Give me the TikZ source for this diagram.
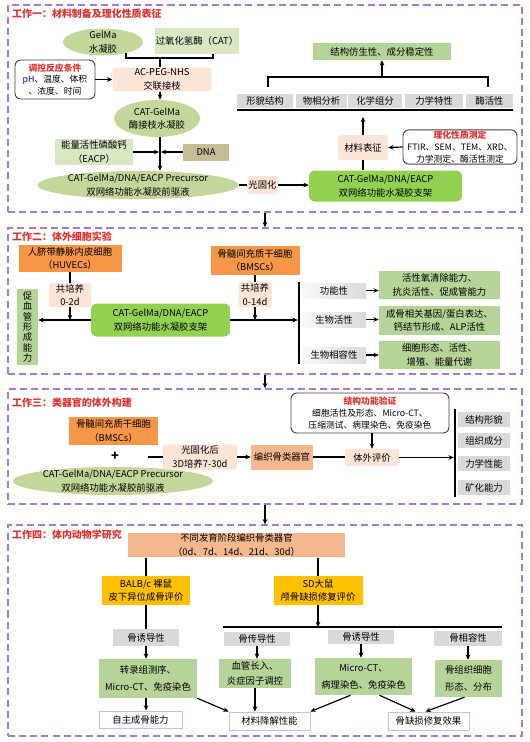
\documentclass[tikz,border=0pt]{standalone}
\usepackage{fontspec}
\setmainfont{Noto Sans CJK SC}
\usetikzlibrary{arrows.meta, positioning, calc, shapes.geometric}
\definecolor{framepurple}{HTML}{A27BD6}
\definecolor{titlered}{HTML}{E0312F}
\definecolor{olive}{HTML}{C4D79B}
\definecolor{palegreen}{HTML}{D8E8C2}
\definecolor{midgreen}{HTML}{B4D498}
\definecolor{brightgreen}{HTML}{92D050}
\definecolor{peach}{HTML}{FCE4D6}
\definecolor{deeporange}{HTML}{F79646}
\definecolor{salmon}{HTML}{F5B88E}
\definecolor{amber}{HTML}{FFC000}
\definecolor{khaki}{HTML}{C4BD97}
\definecolor{greybox}{HTML}{D9D9D9}
\definecolor{bluegrey}{HTML}{B4C7E7}

\begin{document}
\begin{tikzpicture}[
    x=0.03cm, y=-0.03cm,
    font=\fontsize{8}{11.5}\selectfont,
    wh/.style 2 args={minimum width=#1*0.03cm, minimum height=#2*0.03cm},
    tbox/.style={inner sep=1pt, align=center},
    ell/.style={ellipse, fill=olive, inner sep=0pt,
                label={[align=center]center:#1}},
    sect/.style={draw=framepurple, line width=1.2pt, dash pattern=on 6pt off 3.5pt},
    ttl/.style={anchor=west, inner sep=0pt, text=titlered,
                font=\fontsize{8.5}{10}\selectfont\bfseries},
    note/.style={tbox, draw=black!75, line width=0.8pt, rounded corners=5pt,
                 fill=white, font=\fontsize{7.5}{10}\selectfont},
    greybar/.style={tbox, fill=greybox},
    shadebar/.style={tbox, left color=greybox!15, right color=greybox},
    peachbox/.style={tbox, fill=peach, rounded corners=2pt},
    resbox/.style={tbox, fill=midgreen},
    endbox/.style={tbox, draw=bluegrey, line width=0.8pt, fill=white},
    arr/.style={-{Stealth[length=4.5pt,width=4pt]}, line width=1pt},
    link/.style={line width=1pt},
    bar/.style={line width=2pt}
  ]
  \useasboundingbox (0,0) rectangle (530,742);

  % frames
  \node[sect, wh={514}{207}] (s1) at (265,108.5) {};
  \node[sect, wh={514}{146}] (s2) at (265,301) {};
  \node[sect, wh={514}{115}] (s3) at (265,446.5) {};
  \node[sect, wh={514}{211}] (s4) at (265,630.5) {};
  \node[ttl] (t1) at (12,14) {工作一：材料制备及理化性质表征};
  \node[ttl] (t2) at (12,237) {工作二：体外细胞实验};
  \node[ttl] (t3) at (12,403) {工作三：类器官的体外构建};
  \node[ttl] (t4) at (12,535) {工作四：体内动物学研究};
  \draw[arr] (s1.south) -- (s2.north);
  \draw[arr] (s2.south) -- (s3.north);
  \draw[arr] (s3.south) -- (s4.north);

  % work 1
  \node[ell={GelMa\\水凝胶}, wh={80}{27}] (gelma) at (103,42) {};
  \node[tbox, fill=palegreen, wh={80}{26}] (cat) at (197,41) {过氧化氢酶（CAT）};
  \node[note, wh={80}{39}] (cond) at (55,79.5)
    {{\color{titlered}\bfseries 调控反应条件}\\{\color{blue}pH}、温度、体积\\、浓度、时间};
  \node[peachbox, wh={99}{23}] (acpeg) at (162,79.5) {AC-PEG-NHS\\交联接枝};
  \coordinate (bk) at (160,58);
  \draw[link] ([shift={(23,-2.5)}]gelma.south) |- (bk) -| ([shift={(16,0)}]cat.south);
  \draw[link] (bk) -- (bk |- acpeg.north);
  \draw[arr] (cond.east) -- (acpeg.west);
  \node[ell={CAT-GelMa\\酶接枝水凝胶}, wh={86}{37}] (catgel) at (157,118.5) {};
  \draw[arr] (bk |- acpeg.south) -- (bk |- catgel.north);
  \node[tbox, fill=palegreen, wh={78}{26}] (eacp) at (94,152) {能量活性磷酸钙\\（EACP）};
  \node[tbox, fill=khaki, wh={46}{17}] (dna) at (206,152) {DNA};
  \node[ell={CAT-GelMa/DNA/EACP Precursor\\双网络功能水凝胶前驱液}, wh={201}{28}] (prec) at (138,185) {};
  \coordinate (mj) at (160,152);
  \draw[arr] (eacp.east) -- ([shift={(-1,0)}]mj);
  \draw[arr] (dna.west) -- ([shift={(1,0)}]mj);
  \draw[arr] (mj |- catgel.south) -- (mj |- prec.north);
  \node[peachbox, wh={29}{18}] (gh1) at (262.5,185) {光固化};
  \node[tbox, fill=brightgreen, rounded corners=5pt, wh={153}{31}] (scaf) at (385.5,186)
    {CAT-GelMa/DNA/EACP\\双网络功能水凝胶支架};
  \draw[link] (prec.east) -- (gh1.west);
  \draw[arr] (gh1.east) -- (gh1.east -| scaf.west);
  \node[peachbox, wh={50}{25}] (bz) at (363,147.5) {材料表征};
  \node[note, wh={114}{34}] (lh) at (460,147)
    {{\color{titlered}\bfseries 理化性质测定}\\FTIR、SEM、TEM、XRD、\\力学测定、酶活性测定};
  \draw[link] (bz.south) -- (bz.south |- scaf.north);
  \draw[arr] (lh.west) -- (bz.east);
  \foreach \cx/\w/\lab [count=\i] in {265/56/形貌结构, 321.5/51/物相分析,
      375/54/化学组分, 434/58/力学特性, 489.5/47/酶活性}
    \node[greybar, wh={\w}{14}] (p\i) at (\cx,100.5) {\lab};
  \draw[line width=1.5pt] ([shift={(0,2)}]p1.south west) -- ([shift={(0,2)}]p5.south east);
  \coordinate (bt) at (363,117);
  \draw[arr] (bz.north) -- (bt);
  \node[resbox, wh={138}{17}] (jg) at (382,51.5) {结构仿生性、成分稳定性};
  \coordinate (bkt) at (382,77);
  \coordinate (bl2) at (268,87);
  \coordinate (br2) at (488,87);
  \draw[link] (bl2) |- (bkt) -| (br2);
  \draw[arr] (bkt) -- (jg.south);

  % work 2
  \node[tbox, fill=deeporange, wh={103}{27}] (huvec) at (70,258.5) {人脐带静脉内皮细胞\\（HUVECs）};
  \node[peachbox, wh={42}{24}] (cp1) at (70,295) {共培养\\0-2d};
  \node[tbox, fill=deeporange, wh={89}{29}] (bmsc) at (255,260.5) {骨髓间充质干细胞\\（BMSCs）};
  \node[peachbox, wh={33}{25}] (cp2) at (255,294.5) {共培养\\0-14d};
  \node[tbox, fill=brightgreen, rounded corners=5pt, wh={139}{33}] (scaf2) at (160.5,320)
    {CAT-GelMa/DNA/EACP\\双网络功能水凝胶支架};
  \node[resbox, wh={21}{76}, font=\fontsize{8}{8.8}\selectfont] (xg) at (27.5,327)
    {促\\血\\管\\形\\成\\能\\力};
  \draw[link] (huvec.south) -- (cp1.north);
  \draw[link] (bmsc.south) -- (cp2.north);
  \draw[arr] (cp1.south) -- (cp1.south |- scaf2.west);
  \draw[arr] (cp2.south) -- (cp2.south |- scaf2.east);
  \draw[arr] (scaf2.west) -- (scaf2.west -| xg.east);
  \coordinate (vt) at (299,282);
  \coordinate (vb) at (299,364);
  \draw[bar] (vt) -- (vb);
  \draw[arr, shorten >=1pt] (scaf2.east) -- (scaf2.east -| vt);
  \node[shadebar, wh={64}{15}] (gn) at (334,290.5) {功能性};
  \node[shadebar, wh={64}{15}] (sw) at (334,319.5) {生物活性};
  \node[shadebar, wh={64}{16}] (xr) at (334,355) {生物相容性};
  \node[resbox, wh={121}{28}] (r1) at (439.5,285) {活性氧清除能力、\\抗炎活性、促成管能力};
  \node[resbox, wh={121}{29}] (r2) at (439.5,320.5) {成骨相关基因/蛋白表达、\\钙结节形成、ALP活性};
  \node[resbox, wh={121}{28}] (r3) at (439.5,355) {细胞形态、活性、\\增殖、能量代谢};
  \draw[arr] (gn.east) -- (gn.east -| r1.west);
  \draw[arr] (sw.east) -- (sw.east -| r2.west);
  \draw[arr] (xr.east) -- (xr.east -| r3.west);

  % work 3
  \node[tbox, fill=deeporange, wh={89}{28}] (bmsc3) at (113.5,431) {骨髓间充质干细胞\\（BMSCs）};
  \node[inner sep=0pt, font=\fontsize{11}{12}\selectfont\bfseries] (plus) at (115,456) {+};
  \node[ell={CAT-GelMa/DNA/EACP Precursor\\双网络功能水凝胶前驱液}, wh={200}{28}] (prec3) at (113,481) {};
  \coordinate (pl) at (148,457);
  \node[peachbox, wh={74}{25}] (gh2) at (200,457) {光固化后\\3D培养7-30d};
  \node[tbox, fill=salmon, wh={62}{25}] (org) at (282,457) {编织骨类器官};
  \node[peachbox, wh={54}{17}] (pj) at (372,457.5) {体外评价};
  \node[note, wh={158}{40}] (yz) at (370,413)
    {{\color{titlered}\bfseries 结构功能验证}\\细胞活性及形态、Micro-CT、\\压缩测试、病理染色、免疫染色};
  \draw[link] (pl) -- (gh2.west);
  \draw[arr] (gh2.east) -- (org.west);
  \draw[link] (org.east) -- (org.east -| pj.west);
  \draw[arr] (yz.south -| pj) -- (pj.north);
  \coordinate (wt) at (455,409);
  \coordinate (wb) at (455,497);
  \draw[bar] (wt) -- (wb);
  \draw[arr, shorten >=1pt] (pj.east) -- (pj.east -| wt);
  \foreach \cy/\lab [count=\i] in {419.5/结构形貌, 440.5/组织成分, 463.5/力学性能, 487.5/矿化能力}
    \node[greybar, wh={52}{15}] (q\i) at (484,\cy) {\lab};

  % work 4
  \node[tbox, fill=salmon, wh={217}{24}] (top4) at (236.5,545)
    {不同发育阶段编织骨类器官\\（0d、7d、14d、21d、30d）};
  \node[tbox, fill=amber, wh={88}{29}] (balb) at (146,590.5) {BALB/c 裸鼠\\皮下异位成骨评价};
  \node[tbox, fill=amber, wh={89}{29}] (sd) at (318,590.5) {SD大鼠\\颅骨缺损修复评价};
  \draw[link] (balb.north |- top4.south) -- (balb.north);
  \draw[link] (sd.north |- top4.south) -- (sd.north);
  \node[greybar, wh={66}{17}] (gy1) at (146,637.5) {骨诱导性};
  \draw[link] (balb.south) -- (gy1.north);
  \node[resbox, wh={98}{39}] (gl1) at (148,678.5) {转录组测序、\\[3pt]Micro-CT、免疫染色};
  \draw[arr] (gy1.south) -- (gy1.south |- gl1.north);
  \node[endbox, wh={83}{17}] (zz) at (140.5,719.5) {自主成骨能力};
  \draw[arr] (gl1.south -| gy1) -- (zz.north -| gy1);
  \coordinate (hl) at (223,627);
  \coordinate (hr) at (502,627);
  \draw[line width=1.5pt] (hl) -- (hr);
  \draw[arr] (sd.south) -- (sd.south |- hl);
  \node[greybar, wh={66}{14}] (gc) at (257,638.5) {骨传导性};
  \node[greybar, wh={66}{14}] (gy2) at (361,637) {骨诱导性};
  \node[greybar, wh={68}{15}] (gr) at (468,638) {骨相容性};
  \node[resbox, wh={72}{29}] (gl2) at (255,673.5) {血管长入、\\[2pt]炎症因子调控};
  \node[resbox, wh={97}{37}] (gl3) at (363.5,676.5) {Micro-CT、\\[3pt]病理染色、免疫染色};
  \node[resbox, wh={67}{37}] (gl4) at (468.5,678.5) {骨组织细胞\\[3pt]形态、分布};
  \draw[arr] (gc.south) -- (gc.south |- gl2.north);
  \draw[arr] (gy2.south) -- (gy2.south |- gl3.north);
  \draw[arr] (gr.south) -- (gr.south |- gl4.north);
  \node[endbox, wh={81}{18}] (cl) at (269.5,721) {材料降解性能};
  \node[endbox, wh={81}{18}] (gq) at (428.5,721) {骨缺损修复效果};
  \draw[arr] (gl1.south east) -- (cl.north west);
  \draw[arr] (gl2.south) -- (gl2.south |- cl.north);
  \draw[arr] ([shift={(-13,0)}]gl3.south) -- (cl.north east);
  \draw[arr] ([shift={(16,0)}]gl3.south) -- ([shift={(-13,0)}]gq.north);
  \draw[arr] ([shift={(-4,0)}]gl4.south) -- ([shift={(-3,0)}]gq.north);
\end{tikzpicture}
\end{document}
